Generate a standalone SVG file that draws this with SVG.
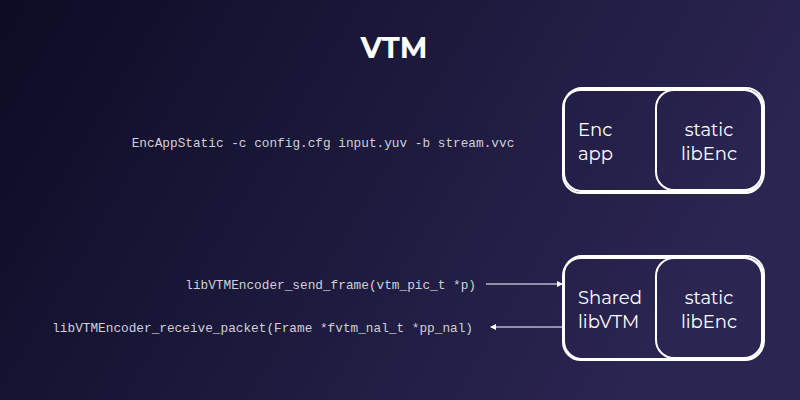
<svg xmlns="http://www.w3.org/2000/svg" width="800" height="400" viewBox="0 0 800 400">
<defs>
<linearGradient id="bg" x1="0" y1="0" x2="1" y2="0.3">
<stop offset="0" stop-color="#0c0c24"/>
<stop offset="1" stop-color="#2b2552"/>
</linearGradient>
<marker id="ah" markerWidth="6" markerHeight="6" refX="5" refY="3" orient="auto" markerUnits="userSpaceOnUse">
<path d="M0,0 L6,3 L0,6 z" fill="#fff"/>
</marker>
<style>
.box{fill:none;stroke:#fff;stroke-width:2}
.lbl{font-family:Montserrat,"Open Sans","Noto Sans",sans-serif;font-size:18px;fill:#fff}
.code{font-family:"Liberation Mono",monospace;font-size:12.75px;fill:#d0d0d8}
.con{stroke:#fff;stroke-width:1;fill:none}
</style>
</defs>
<rect width="800" height="400" fill="url(#bg)"/>
<text x="394" y="58" text-anchor="middle" font-family="Montserrat,'Open Sans',sans-serif" font-weight="bold" font-size="29" fill="#fff">VTM</text>
<text class="code" x="323" y="147" text-anchor="middle">EncAppStatic -c config.cfg input.yuv -b stream.vvc</text>
<text class="code" x="476" y="289" text-anchor="end">libVTMEncoder_send_frame(vtm_pic_t *p)</text>
<text class="code" x="473" y="332" text-anchor="end">libVTMEncoder_receive_packet(Frame *fvtm_nal_t *pp_nal)</text>
<g id="connectors">
<line class="con" x1="486" y1="284" x2="562" y2="284" marker-end="url(#ah)"/>
<line class="con" x1="563" y1="327" x2="491" y2="327" marker-end="url(#ah)"/>
</g>
<g id="encapp">
<rect class="box" x="564" y="88" width="200" height="103" rx="18"/>
<rect class="box" x="563" y="90" width="200" height="103" rx="18" stroke-width="1"/>
<text class="lbl" x="578" y="136">Enc</text>
<text class="lbl" x="578" y="160">app</text>
</g>
<g id="libenc1">
<rect class="box" x="656" y="90" width="106" height="100" rx="18"/>
<text class="lbl" x="709" y="136" text-anchor="middle">static</text>
<text class="lbl" x="709" y="160" text-anchor="middle">libEnc</text>
</g>
<g id="sharedlib">
<rect class="box" x="564" y="256" width="200" height="103" rx="18"/>
<rect class="box" x="563" y="258" width="200" height="102" rx="18" stroke-width="1"/>
<text class="lbl" x="578" y="304">Shared</text>
<text class="lbl" x="578" y="328">libVTM</text>
</g>
<g id="libenc2">
<rect class="box" x="656" y="258" width="106" height="100" rx="18"/>
<text class="lbl" x="709" y="304" text-anchor="middle">static</text>
<text class="lbl" x="709" y="328" text-anchor="middle">libEnc</text>
</g>
</svg>
